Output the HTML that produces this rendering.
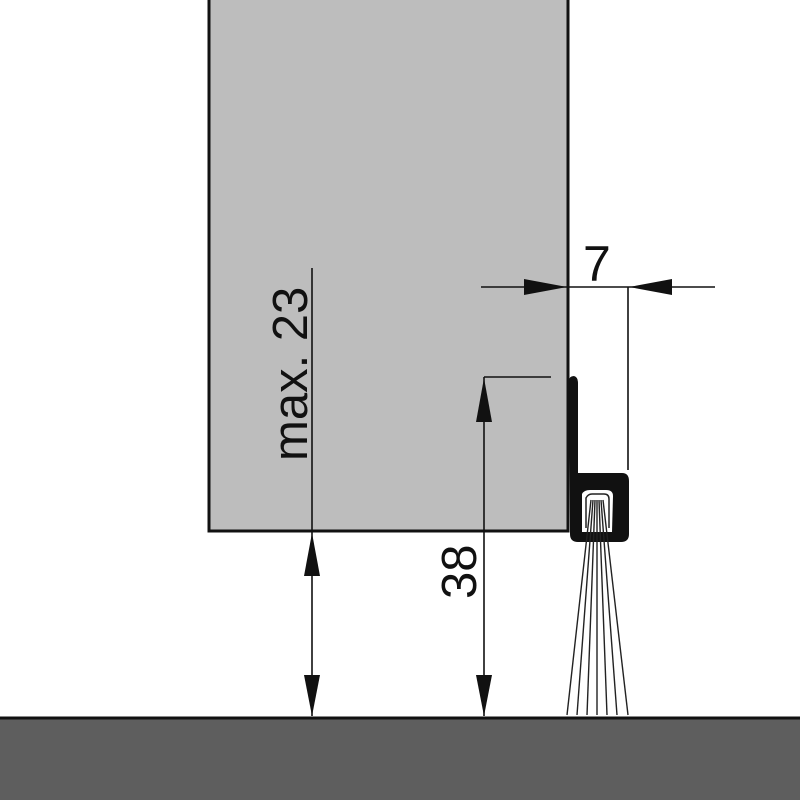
<!DOCTYPE html>
<html><head><meta charset="utf-8"><style>
html,body{margin:0;padding:0;background:#fff}
svg{display:block}
text{font-family:"Liberation Sans",sans-serif;fill:#111}
</style></head><body>
<svg width="800" height="800" viewBox="0 0 800 800" xmlns="http://www.w3.org/2000/svg">
<rect x="0" y="0" width="800" height="800" fill="#fff"/>
<!-- door -->
<rect x="209" y="-5" width="359" height="536" fill="#bdbdbd" stroke="#111" stroke-width="3"/>
<!-- floor -->
<rect x="0" y="718" width="800" height="82" fill="#5e5e5e"/>
<line x1="0" y1="718" x2="800" y2="718" stroke="#111" stroke-width="3"/>
<!-- profile -->
<path d="M569 381 Q569 376 574 376 Q578 377 578 383 L578 473 L622 473 Q629 473 629 481 L629 534 Q629 542 621 542 L578 542 Q570 542 570 534 Z" fill="#111"/>
<path d="M582 494 Q584 490 590 490 L606 490 Q613 490 613 496 L612 532 L582 532 Z" fill="#fff"/>
<path d="M586 528 L586 498 Q588 494 592 494 L604 494 Q609 494 609 499 L609 528" fill="none" stroke="#222" stroke-width="1.5"/>
<g stroke="#222" stroke-width="1.4" fill="none">
<line x1="591" y1="500" x2="567" y2="715"/>
<line x1="593" y1="500" x2="577" y2="715"/>
<line x1="595" y1="500" x2="587" y2="715"/>
<line x1="597" y1="500" x2="597" y2="715"/>
<line x1="599" y1="500" x2="607" y2="715"/>
<line x1="601" y1="500" x2="617" y2="715"/>
<line x1="603" y1="500" x2="628" y2="715"/>
</g>
<!-- dimension lines -->
<g stroke="#111" stroke-width="1.6">
<line x1="312" y1="268" x2="312" y2="716"/>
<line x1="484" y1="377" x2="484" y2="716"/>
<line x1="484" y1="377" x2="551" y2="377"/>
<line x1="481" y1="287" x2="715" y2="287"/>
<line x1="628" y1="287" x2="628" y2="470"/>
</g>
<g fill="#111">
<polygon points="312,533 304,576 320,576"/>
<polygon points="312,716 304,675 320,675"/>
<polygon points="484,378 476,422 492,422"/>
<polygon points="484,716 476,675 492,675"/>
<polygon points="567,287 524,279 524,295"/>
<polygon points="629,287 672,279 672,295"/>
</g>
<text x="0" y="0" font-size="49" transform="translate(307,461) rotate(-90)">max. 23</text>
<text x="0" y="0" font-size="49" transform="translate(476,599) rotate(-90)">38</text>
<text x="583" y="281" font-size="50">7</text>
</svg>
</body></html>
